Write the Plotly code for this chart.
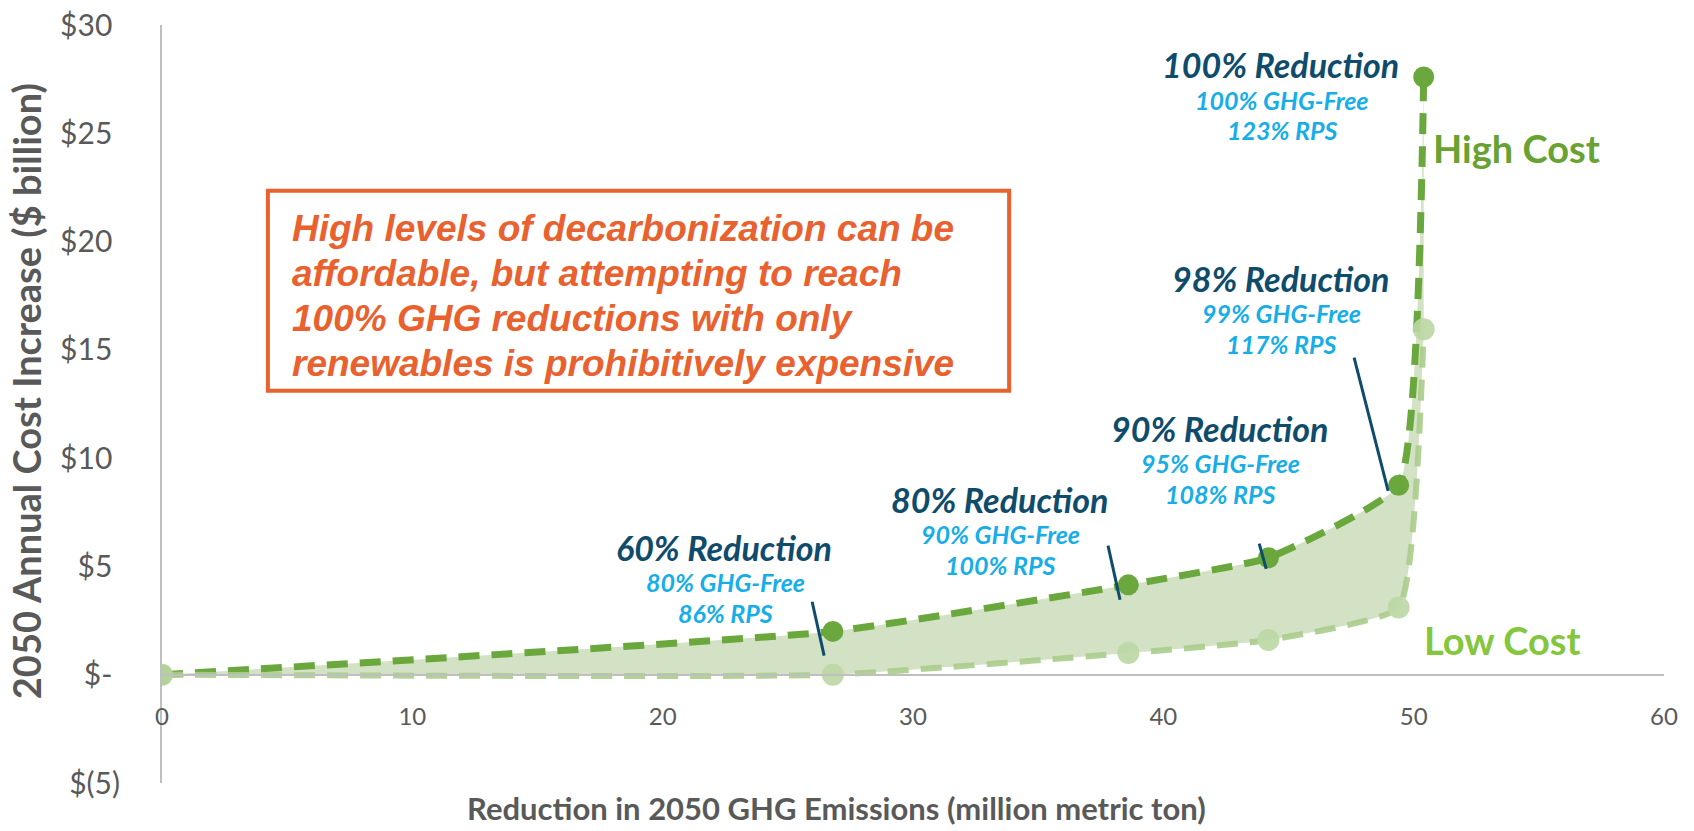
import plotly.graph_objects as go

# Emission reduction (million metric ton) for each decarbonization scenario
reduction_mt = [0, 26.8, 38.6, 44.2, 49.4, 50.4]
# 2050 annual cost increase ($ billion)
high_cost = [0, 2.0, 4.15, 5.4, 8.75, 27.6]
low_cost = [0, 0, 1.0, 1.6, 3.1, 15.95]

scenario_titles = ["60% Reduction", "80% Reduction", "90% Reduction", "98% Reduction", "100% Reduction"]
ghg_free = ["80% GHG-Free", "90% GHG-Free", "95% GHG-Free", "99% GHG-Free", "100% GHG-Free"]
rps = ["86% RPS", "100% RPS", "108% RPS", "117% RPS", "123% RPS"]

y_tickvals = [-5, 0, 5, 10, 15, 20, 25, 30]
y_ticktext = ["$(5)", "$-\u00a0", "$5\u00a0", "$10\u00a0", "$15\u00a0", "$20\u00a0", "$25\u00a0", "$30\u00a0"]
x_tickvals = [0, 10, 20, 30, 40, 50, 60]

HIGH = "#6aa83e"
LOW = "#aacd8c"
LOW_MARK = "#bcd8a4"
BAND = "#d3e2c4"
NAVY = "#0f4c6c"
CYAN = "#17aee8"
ORANGE = "#e8612f"
GREY = "#595959"
AXIS = "#bfbfbf"
FONT = "Lato"

SHAPE = "spline"
SMOOTH = 0.4

fig = go.Figure()

# shaded band between the low- and high-cost curves
fig.add_trace(go.Scatter(x=reduction_mt, y=low_cost, mode="lines",
                         line=dict(width=0, shape=SHAPE, smoothing=SMOOTH),
                         hoverinfo="skip", showlegend=False))
fig.add_trace(go.Scatter(x=reduction_mt, y=high_cost, mode="lines",
                         line=dict(width=0, shape=SHAPE, smoothing=SMOOTH),
                         fill="tonexty", fillcolor=BAND,
                         hoverinfo="skip", showlegend=False))

# high-cost curve
fig.add_trace(go.Scatter(x=reduction_mt, y=high_cost, mode="lines+markers",
                         line=dict(color=HIGH, width=7, dash="21px,12px",
                                   shape=SHAPE, smoothing=SMOOTH),
                         marker=dict(color=HIGH, size=21),
                         name="High Cost", showlegend=False))
# low-cost curve
fig.add_trace(go.Scatter(x=reduction_mt, y=low_cost, mode="lines+markers",
                         line=dict(color=LOW, width=6, dash="21px,12px",
                                   shape=SHAPE, smoothing=SMOOTH),
                         marker=dict(color=LOW_MARK, size=22),
                         opacity=0.9,
                         name="Low Cost", showlegend=False))

# scenario labels (title line, GHG-free share, RPS share) and their leader lines
label_pos = [(22.45, 5.86), (33.44, 8.08), (42.23, 11.36), (44.67, 18.28), (44.7, 28.16)]
leaders = [((25.97, 3.37), (26.45, 0.88)),
           ((37.79, 5.96), (38.27, 3.46)),
           ((43.83, 6.05), (44.11, 4.89)),
           ((47.62, 14.64), (48.98, 8.49))]

annotations = []
for (lx, ly), t, g, r in zip(label_pos, scenario_titles, ghg_free, rps):
    annotations.append(dict(x=lx, y=ly, text=t, showarrow=False,
                            font=dict(family=FONT, size=34, color=NAVY,
                                      weight="bold", style="italic")))
    annotations.append(dict(x=lx + 0.05, y=ly - 1.6, text=g, showarrow=False,
                            font=dict(family=FONT, size=25, color=CYAN,
                                      weight="bold", style="italic")))
    annotations.append(dict(x=lx + 0.05, y=ly - 3.0, text=r, showarrow=False,
                            font=dict(family=FONT, size=25, color=CYAN,
                                      weight="bold", style="italic")))

for (x0, y0), (x1, y1) in leaders:
    fig.add_shape(type="line", x0=x0, y0=y0, x1=x1, y1=y1,
                  line=dict(color=NAVY, width=3))

annotations.append(dict(x=54.1, y=24.3, text="High Cost", showarrow=False,
                        font=dict(family=FONT, size=38, color="#68a232", weight="bold")))
annotations.append(dict(x=53.54, y=1.62, text="Low Cost", showarrow=False,
                        font=dict(family=FONT, size=38, color="#84c63d", weight="bold")))

# call-out box
fig.add_shape(type="rect", x0=4.23, x1=33.84, y0=13.11, y1=22.35,
              line=dict(color=ORANGE, width=4), fillcolor="white", layer="below")
callout = ["High levels of decarbonization can be",
           "affordable, but attempting to reach",
           "100% GHG reductions with only",
           "renewables is prohibitively expensive"]
for i, line in enumerate(callout):
    annotations.append(dict(x=5.11, y=20.59 - 2.077 * i, text=line, showarrow=False,
                            xanchor="left",
                            font=dict(family="Liberation Sans", size=37, color=ORANGE,
                                      weight="bold", style="italic")))

# axis titles
annotations.append(dict(x=0.4494, y=-0.033, xref="paper", yref="paper",
                        xanchor="center", yanchor="middle",
                        text="Reduction in 2050 GHG Emissions (million metric ton)",
                        showarrow=False,
                        font=dict(family=FONT, size=31, color=GREY, weight="bold")))
annotations.append(dict(x=-0.0905, y=0.517, xref="paper", yref="paper",
                        xanchor="center", yanchor="middle", textangle=-90,
                        text="2050 Annual Cost Increase ($ billion)",
                        showarrow=False,
                        font=dict(family=FONT, size=38, color=GREY, weight="bold")))

fig.update_layout(
    width=1694, height=831,
    margin=dict(l=162, r=30, t=25, b=48, autoexpand=False),
    paper_bgcolor="white", plot_bgcolor="white",
    showlegend=False,
    annotations=annotations,
    xaxis=dict(range=[0, 60], anchor="free", position=5 / 35, automargin=False,
               showline=True, linecolor=AXIS, linewidth=2,
               showgrid=False, zeroline=False,
               tickvals=x_tickvals, ticks="", ticklabelstandoff=20,
               tickfont=dict(family=FONT, size=24, color=GREY)),
    yaxis=dict(range=[-5, 30], domain=[0, 1], automargin=False,
               showline=True, linecolor=AXIS, linewidth=2,
               showgrid=False, zeroline=False,
               tickvals=y_tickvals, ticktext=y_ticktext, ticks="",
               ticklabelstandoff=34,
               tickfont=dict(family=FONT, size=30, color=GREY)),
)

fig.write_html("out.html")
